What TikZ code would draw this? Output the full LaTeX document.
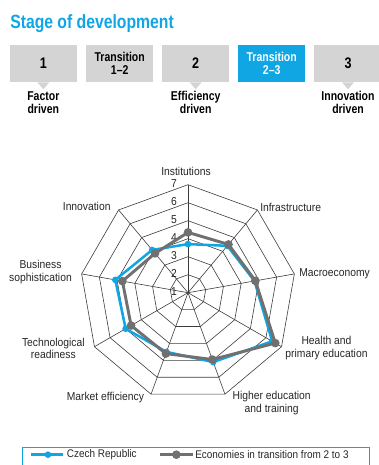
\documentclass[tikz,border=0pt]{standalone}
\usepackage{fontspec}
\setmainfont{Liberation Sans}[FakeStretch=0.9, BoldFeatures={FakeStretch=0.82}]
\usetikzlibrary{positioning,calc}
\definecolor{wefblue}{RGB}{16,166,228}
\definecolor{boxgray}{RGB}{212,212,212}
\definecolor{linegray}{RGB}{112,112,112}
\definecolor{gridgray}{RGB}{60,60,60}
\tikzset{
	stagebox/.style = {rectangle, fill=boxgray, minimum width=50.6pt,
		minimum height=27.8pt, inner sep=0pt, align=center,
		font=\bfseries\fontsize{9.6}{10.2}\selectfont},
	stagenum/.style = {stagebox, font=\bfseries\fontsize{11.5}{12}\selectfont},
	stagelabel/.style = {align=center, inner sep=0pt,
		font=\bfseries\fontsize{9.6}{9.8}\selectfont},
	pointer/.style = {fill=boxgray, draw=none},
	axislabel/.style = {align=center, inner sep=0pt, text=black!85,
		font=\fontsize{8.6}{9.4}\selectfont},
	ringnum/.style = {inner sep=0pt, text=black!85, font=\fontsize{8.6}{9}\selectfont},
	grid/.style = {draw=gridgray, line width=0.45pt},
	czline/.style = {draw=wefblue, line width=1.9pt, line join=round},
	trline/.style = {draw=linegray, line width=2.2pt, line join=round},
	czmark/.style = {circle, fill=wefblue, inner sep=0pt, minimum size=5pt},
	trmark/.style = {circle, fill=linegray, inner sep=0pt, minimum size=6.5pt},
	legendtext/.style = {anchor=west, inner sep=0pt, text=black!85,
		font=\fontsize{8.3}{9}\selectfont},
}

\begin{document}
\begin{tikzpicture}[x=0.75pt, y=0.75pt]
	\clip (0,0) rectangle (379,465);
	%Title
	\node[anchor=base west, inner sep=0pt, text=wefblue,
		font=\bfseries\fontsize{14.4}{16}\selectfont] (title) at (10,436.7) {Stage of development};
	%Stage boxes
	\node[stagenum]                 (stage1)  at (43.3,401.5)  {1};
	\node[stagebox]                 (trans12) at (119.7,401.5) {Transition\\1--2};
	\node[stagenum]                 (stage2)  at (195.7,401.5) {2};
	\node[stagebox, fill=wefblue, text=white] (trans23) at (271.7,401.5) {Transition\\2--3};
	\node[stagenum]                 (stage3)  at (348,401.5)   {3};
	%pointers
	\fill[pointer] ($(stage1.south)+(-6,0)$) -- ($(stage1.south)+(6,0)$) -- ($(stage1.south)+(0,-7)$) -- cycle;
	\fill[pointer] ($(stage2.south)+(-6,0)$) -- ($(stage2.south)+(6,0)$) -- ($(stage2.south)+(0,-7)$) -- cycle;
	\fill[pointer] ($(stage3.south)+(-6,0)$) -- ($(stage3.south)+(6,0)$) -- ($(stage3.south)+(0,-7)$) -- cycle;
	\node[stagelabel] (factor)     [below=9 of stage1] {Factor\\driven};
	\node[stagelabel] (efficiency) [below=9 of stage2] {Efficiency\\driven};
	\node[stagelabel] (innovdrv)   [below=9 of stage3] {Innovation\\driven};

	%Radar chart
	\begin{scope}[shift={(188,172.3)}]
		\coordinate (centre) at (0,0);
		\foreach \r in {18,36,54,72,90,108}
			\draw[grid] (90:\r) \foreach \a in {50,10,...,-230} { -- (\a:\r) } -- cycle;
		\foreach \a [count=\i] in {90,50,10,-30,-70,-110,-150,-190,-230}
			\draw[grid] (centre) -- (\a:108) coordinate (spoke\i);
		\foreach \v in {1,...,7}
			\node[ringnum] (num\v) at (-14,{(\v-1)*18+1}) {\v};

		%Data points
		\foreach \a/\r [count=\i] in {90/48.6, 50/61.2, 10/67.5, -30/97.2, -70/73.8,
				-110/63, -150/72, -190/73.8, -230/55.8}
			\coordinate (cz\i) at (\a:\r);
		\foreach \a/\r [count=\i] in {90/60.3, 50/63, 10/68.4, -30/100.8, -70/71.1,
				-110/64.8, -150/65.7, -190/66.6, -230/51.3}
			\coordinate (tr\i) at (\a:\r);
	\end{scope}

	%Lines
	\draw[czline] (cz1) -- (cz2) -- (cz3) -- (cz4) -- (cz5) -- (cz6) -- (cz7) -- (cz8) -- (cz9) -- cycle;
	\foreach \i in {1,...,9}
		\node[czmark] (czdot\i) at (cz\i) {};
	\draw[trline] (tr1) -- (tr2) -- (tr3) -- (tr4) -- (tr5) -- (tr6) -- (tr7) -- (tr8) -- (tr9) -- cycle;
	\foreach \i in {1,...,9}
		\node[trmark] (trdot\i) at (tr\i) {};

	%Axis labels
	\node[axislabel] (institutions) at (186,294)   {Institutions};
	\node[axislabel, anchor=west] (infrastructure) at (260,258) {Infrastructure};
	\node[axislabel, anchor=west] (macro) at (299,191.7) {Macroeconomy};
	\node[axislabel] (health)    at (326.5,116.7) {Health and\\primary education};
	\node[axislabel] (highered)  at (271.7,62)   {Higher education\\and training};
	\node[axislabel, anchor=east] (market) at (144.3,67.3) {Market efficiency};
	\node[axislabel] (techready) at (53.3,116.5) {Technological\\readiness};
	\node[axislabel] (business)  at (40.5,193)   {Business\\sophistication};
	\node[axislabel] (innovation) at (86.7,258.3) {Innovation};

	%Legend
	\draw[wefblue, line width=0.6pt] (22.3,18) rectangle (369,-10);
	\coordinate (czA) at (31,10.3);
	\coordinate (czB) at (63,10.3);
	\draw[czline] (czA) -- (czB);
	\node[czmark] (czkey) at ($(czA)!0.53!(czB)$) {};
	\node[legendtext] (czname) at (66.7,10.3) {Czech Republic};
	\coordinate (trA) at (160,10.3);
	\coordinate (trB) at (192.7,10.3);
	\draw[trline] (trA) -- (trB);
	\node[trmark] (trkey) at ($(trA)!0.5!(trB)$) {};
	\node[legendtext] (trname) at (195,10.3) {Economies in transition from 2 to 3};
\end{tikzpicture}
\end{document}
